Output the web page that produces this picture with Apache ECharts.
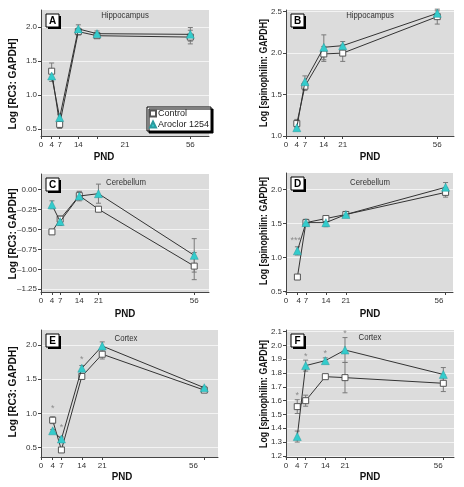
<!DOCTYPE html>
<html><head><meta charset="utf-8">
<script src="https://cdn.jsdelivr.net/npm/echarts@6/dist/echarts.min.js"></script>
<style>html,body{margin:0;padding:0;background:#fff;}#c{width:464px;height:487px;}</style>
</head><body><div id="c"></div>
<script>
const FONT = "'Liberation Sans','Arial',sans-serif";

// ---------------- data ----------------
const pnd = [4, 7, 14, 21, 56];
const seriesNames = ['Control', 'Aroclor 1254'];
const xTickLabels = ['0', '4', '7', '14', '21', '56'];

// A: Hippocampus, RC3
const aControl = [1.35, 0.57, 1.93, 1.87, 1.85];
const aControlErr = [0.12, 0.06, 0.05, 0.04, 0.10];
const aAroclor = [1.28, 0.67, 1.97, 1.90, 1.89];
const aAroclorErr = [0.08, 0.05, 0.06, 0.04, 0.10];
const aYTicks = [0.5, 1.0, 1.5, 2.0];

// B: Hippocampus, spinophilin
const bControl = [1.15, 1.60, 1.99, 2.00, 2.44];
const bControlErr = [0.05, 0.05, 0.09, 0.10, 0.09];
const bAroclor = [1.10, 1.655, 2.07, 2.09, 2.48];
const bAroclorErr = [0.03, 0.07, 0.15, 0.05, 0.03];
const bYTicks = [1.0, 1.5, 2.0, 2.5];

// C: Cerebellum, RC3
const cControl = [-0.53, -0.37, -0.075, -0.245, -0.96];
const cControlErr = [0.03, 0.04, 0.05, 0.03, 0.17];
const cAroclor = [-0.19, -0.40, -0.08, -0.05, -0.825];
const cAroclorErr = [0.05, 0.05, 0.06, 0.12, 0.21];
const cYTicks = [-1.25, -1.0, -0.75, -0.5, -0.25, 0];

// D: Cerebellum, spinophilin
const dControl = [0.71, 1.51, 1.57, 1.63, 1.955];
const dControlErr = [0.02, 0.03, 0.03, 0.03, 0.07];
const dAroclor = [1.095, 1.51, 1.51, 1.63, 2.03];
const dAroclorErr = [0.06, 0.05, 0.06, 0.03, 0.07];
const dYTicks = [0.5, 1.0, 1.5, 2.0];
const dNotes = [[3.4, 1.25, '***']];

// E: Cortex, RC3
const eControl = [0.90, 0.465, 1.54, 1.865, 1.34];
const eControlErr = [0.05, 0.03, 0.03, 0.07, 0.02];
const eAroclor = [0.745, 0.625, 1.66, 1.985, 1.375];
const eAroclorErr = [0.02, 0.03, 0.04, 0.06, 0.02];
const eYTicks = [0.5, 1.0, 1.5, 2.0];
const eNotes = [[4, 1.07, '*'], [7, 0.80, '*'], [14, 1.79, '*']];

// F: Cortex, spinophilin
const fControl = [1.557, 1.60, 1.774, 1.767, 1.726];
const fControlErr = [0.05, 0.04, 0.01, 0.11, 0.06];
const fAroclor = [1.34, 1.854, 1.89, 1.967, 1.79];
const fAroclorErr = [0.04, 0.04, 0.02, 0.09, 0.05];
const fYTicks = [1.2, 1.3, 1.4, 1.5, 1.6, 1.7, 1.8, 1.9, 2.0, 2.1];
const fNotes = [[4, 1.64, '*'], [7, 1.92, '*'], [14, 1.94, '*'], [21, 2.09, '*']];

// ---------------- panels (layout) ----------------
const panels = [
  { letter: 'A', title: 'Hippocampus', yName: 'Log [RC3: GAPDH]', yNameScale: 0.88, ctl: aControl, ctlErr: aControlErr, aro: aAroclor, aroErr: aAroclorErr, yTicks: aYTicks, dec: 1, notes: [],
    grid: { left: 41, top: 10, width: 168, height: 126 }, xMax: 63, yMin: 0.4, yMax: 2.247, xLabelPos: [0, 4, 7, 14, 31.5, 56],
    titleXY: [125, 15.5], yNameXY: [13, 84], xNameXY: [104, 157] },
  { letter: 'B', title: 'Hippocampus', yName: 'Log [spinophilin: GAPDH]', yNameScale: 0.76, ctl: bControl, ctlErr: bControlErr, aro: bAroclor, aroErr: bAroclorErr, yTicks: bYTicks, dec: 1, notes: [],
    grid: { left: 286, top: 10, width: 168, height: 126 }, xMax: 62.2, yMin: 1.0, yMax: 2.52, xLabelPos: [0, 4, 7, 14, 21, 56],
    titleXY: [370, 15.5], yNameXY: [263.5, 73], xNameXY: [370, 157] },
  { letter: 'C', title: 'Cerebellum', yName: 'Log [RC3: GAPDH]', yNameScale: 0.88, ctl: cControl, ctlErr: cControlErr, aro: cAroclor, aroErr: cAroclorErr, yTicks: cYTicks, dec: 2, notes: [],
    grid: { left: 41, top: 174, width: 168, height: 118 }, xMax: 61.4, yMin: -1.285, yMax: 0.197, xLabelPos: [0, 4, 7, 14, 21, 56],
    titleXY: [126, 182], yNameXY: [13, 234], xNameXY: [125, 314] },
  { letter: 'D', title: 'Cerebellum', yName: 'Log [spinophilin: GAPDH]', yNameScale: 0.76, ctl: dControl, ctlErr: dControlErr, aro: dAroclor, aroErr: dAroclorErr, yTicks: dYTicks, dec: 1, notes: dNotes,
    grid: { left: 286, top: 173, width: 167, height: 119 }, xMax: 58.6, yMin: 0.49, yMax: 2.24, xLabelPos: [0, 4.5, 7, 14, 21, 53.7],
    titleXY: [370, 182], yNameXY: [263.5, 231], xNameXY: [370, 314] },
  { letter: 'E', title: 'Cortex', yName: 'Log [RC3: GAPDH]', yNameScale: 0.88, ctl: eControl, ctlErr: eControlErr, aro: eAroclor, aroErr: eAroclorErr, yTicks: eYTicks, dec: 1, notes: eNotes,
    grid: { left: 41, top: 330, width: 177, height: 127 }, xMax: 60.7, yMin: 0.362, yMax: 2.219, xLabelPos: [0, 4, 7, 14, 21, 52.3],
    titleXY: [126, 338], yNameXY: [13, 392], xNameXY: [122, 477] },
  { letter: 'F', title: 'Cortex', yName: 'Log [spinophilin: GAPDH]', yNameScale: 0.76, ctl: fControl, ctlErr: fControlErr, aro: fAroclor, aroErr: fAroclorErr, yTicks: fYTicks, dec: 1, notes: fNotes,
    grid: { left: 286, top: 330, width: 168, height: 127 }, xMax: 59.8, yMin: 1.192, yMax: 2.112, xLabelPos: [0, 4, 7, 14, 21, 54.2],
    titleXY: [370, 337], yNameXY: [263.5, 394], xNameXY: [370, 477] }
];

const AXIS = '#444';
const CYAN = '#33cccc';

const grids = [], xAxes = [], yAxes = [], series = [], graphics = [];

function errSeries(gi, vals, errs) {
  return {
    type: 'custom', xAxisIndex: gi, yAxisIndex: gi, z: 2, silent: true,
    data: pnd.map((x, i) => [x, vals[i] - errs[i], vals[i] + errs[i]]),
    encode: { x: 0, y: [1, 2] },
    renderItem: (params, api) => {
      const lo = api.coord([api.value(0), api.value(1)]);
      const hi = api.coord([api.value(0), api.value(2)]);
      const w = 2.5, st = { stroke: '#7a7a7a', lineWidth: 1 };
      return { type: 'group', children: [
        { type: 'line', shape: { x1: lo[0], y1: lo[1], x2: hi[0], y2: hi[1] }, style: st },
        { type: 'line', shape: { x1: lo[0] - w, y1: lo[1], x2: lo[0] + w, y2: lo[1] }, style: st },
        { type: 'line', shape: { x1: hi[0] - w, y1: hi[1], x2: hi[0] + w, y2: hi[1] }, style: st }
      ] };
    }
  };
}

panels.forEach((p, gi) => {
  grids.push(Object.assign({ show: true, backgroundColor: '#dcdcdc', borderWidth: 0 }, p.grid));
  const labelPos = p.xLabelPos;
  xAxes.push({
    gridIndex: gi, type: 'value', min: 0, max: p.xMax,
    axisLine: { show: true, onZero: false, lineStyle: { color: AXIS, width: 1 } },
    axisTick: { show: true, customValues: [0].concat(pnd), length: 3, lineStyle: { color: AXIS } },
    axisLabel: { customValues: labelPos, formatter: v => xTickLabels[labelPos.indexOf(v)] || '',
      fontSize: 8, color: '#333', margin: 5, fontFamily: FONT },
    splitLine: { show: false }
  });
  yAxes.push({
    gridIndex: gi, type: 'value', min: p.yMin, max: p.yMax,
    axisLine: { show: true, onZero: false, lineStyle: { color: AXIS, width: 1 } },
    axisTick: { show: true, customValues: p.yTicks, length: 3, lineStyle: { color: AXIS } },
    axisLabel: { customValues: p.yTicks, formatter: v => (v < 0 ? '\u2013' + Math.abs(v).toFixed(p.dec) : v.toFixed(p.dec)),
      fontSize: 8, color: '#333', margin: 4, fontFamily: FONT },
    splitLine: { show: true, lineStyle: { color: '#f3f3f3', width: 1 } }
  });
  series.push(errSeries(gi, p.ctl, p.ctlErr));
  series.push(errSeries(gi, p.aro, p.aroErr));
  series.push({
    name: seriesNames[0], type: 'line', xAxisIndex: gi, yAxisIndex: gi, z: 3,
    data: pnd.map((x, i) => [x, p.ctl[i]]),
    symbol: 'rect', symbolSize: 6,
    itemStyle: { color: '#ffffff', borderColor: '#555', borderWidth: 1 },
    lineStyle: { color: '#333', width: 1 }, emphasis: { disabled: true }
  });
  series.push({
    name: seriesNames[1], type: 'line', xAxisIndex: gi, yAxisIndex: gi, z: 4,
    data: pnd.map((x, i) => [x, p.aro[i]]),
    symbol: 'triangle', symbolSize: 8,
    itemStyle: { color: CYAN, borderColor: '#2a9a9e', borderWidth: 0.5 },
    lineStyle: { color: '#333', width: 1 }, emphasis: { disabled: true }
  });
  if (p.notes.length) {
    series.push({
      type: 'scatter', xAxisIndex: gi, yAxisIndex: gi, z: 5, symbolSize: 0, silent: true,
      data: p.notes.map(n => ({ value: [n[0], n[1]], label: { formatter: n[2] } })),
      label: { show: true, position: 'inside', color: '#777', fontSize: 9, fontFamily: FONT }
    });
  }
  const bx = p.grid.left + 5, by = p.grid.top + 4;
  graphics.push(
    { type: 'rect', shape: { x: bx + 2, y: by + 2, width: 13, height: 13 }, style: { fill: '#000' }, z: 10 },
    { type: 'rect', shape: { x: bx, y: by, width: 13, height: 13 }, style: { fill: '#fff', stroke: '#000', lineWidth: 1 }, z: 11 },
    { type: 'text', x: bx + 6.5, y: by + 7, z: 12, style: { text: p.letter, fontSize: 10, fontWeight: 'bold', fill: '#000', fontFamily: FONT, align: 'center', verticalAlign: 'middle' } },
    { type: 'text', x: p.titleXY[0], y: p.titleXY[1], scaleX: 0.82, z: 12, style: { text: p.title, fontSize: 9.5, fill: '#333', fontFamily: FONT, align: 'center', verticalAlign: 'middle' } },
    { type: 'text', x: p.yNameXY[0], y: p.yNameXY[1], rotation: Math.PI / 2, scaleX: p.yNameScale, z: 12, style: { text: p.yName, fontSize: 11.5, fontWeight: 'bold', fill: '#111', fontFamily: FONT, align: 'center', verticalAlign: 'middle' } },
    { type: 'text', x: p.xNameXY[0], y: p.xNameXY[1], scaleX: 0.85, z: 12, style: { text: 'PND', fontSize: 11.5, fontWeight: 'bold', fill: '#111', fontFamily: FONT, align: 'center', verticalAlign: 'middle' } }
  );
});

const chart = echarts.init(document.getElementById('c'), null, { renderer: 'canvas' });
chart.setOption({
  animation: false,
  backgroundColor: '#ffffff',
  grid: grids, xAxis: xAxes, yAxis: yAxes, series: series,
  legend: {
    data: [{ name: seriesNames[0], icon: 'rect' }, { name: seriesNames[1], icon: 'triangle' }],
    orient: 'vertical', left: 147, top: 107, itemWidth: 6, itemHeight: 6, itemGap: 2,
    padding: [2, 2, 2, 2], backgroundColor: '#fff', borderColor: '#000', borderWidth: 1,
    shadowColor: '#000', shadowOffsetX: 2, shadowOffsetY: 2, shadowBlur: 0,
    textStyle: { fontSize: 9, color: '#222', fontFamily: FONT, padding: [0, 0, 0, -3] },
    selectedMode: false
  },
  graphic: graphics
});
</script></body></html>
